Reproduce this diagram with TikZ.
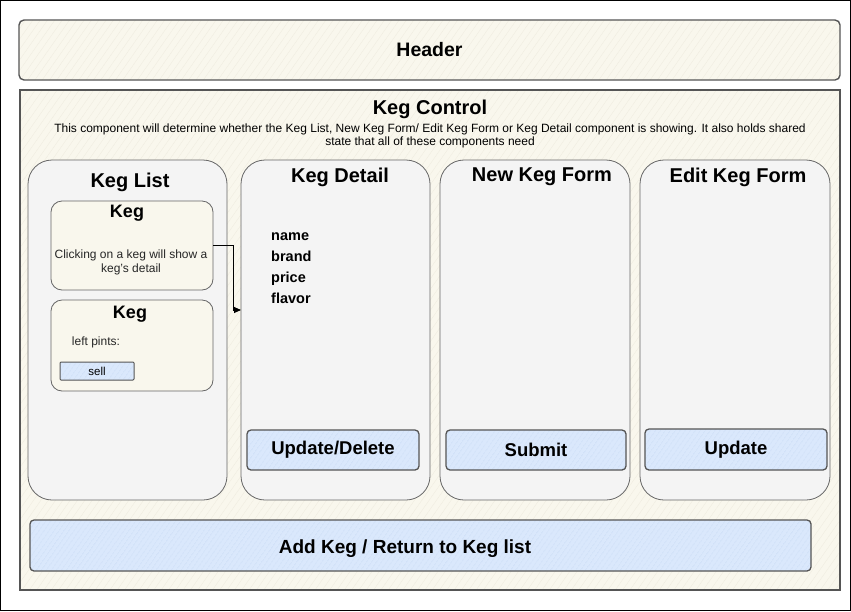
\documentclass[tikz,border=0pt]{standalone}
\usepackage{fontspec}
\setmainfont{Liberation Sans}
\usetikzlibrary{arrows.meta,patterns.meta,calc}
\definecolor{paper}{HTML}{F9F7ED}
\definecolor{paperhatch}{HTML}{EFECE0}
\definecolor{panel}{HTML}{F4F4F4}
\definecolor{btn}{HTML}{DAE8FC}
\definecolor{btnhatch}{HTML}{C2D6F2}
\definecolor{edge}{HTML}{555555}
\tikzset{
  hatchpaper/.style={preaction={fill=paper},preaction={pattern={Lines[distance=6pt,angle=55,line width=0.35pt]},pattern color=paperhatch}},
  hatchbtn/.style={preaction={fill=btn},preaction={pattern={Lines[distance=4pt,angle=55,line width=0.5pt]},pattern color=btnhatch}},
  sketchbox/.style={draw=edge,line width=1.4pt,hatchpaper,rounded corners=5pt,inner sep=0pt,outer sep=0pt,anchor=north west},
  ctrlbox/.style={draw=edge,line width=1.1pt,hatchpaper,inner sep=0pt,outer sep=0pt,anchor=north west},
  panelbox/.style={draw=edge!90,line width=0.8pt,fill=panel,rounded corners=24pt,inner sep=0pt,outer sep=0pt,anchor=north west},
  kegbox/.style={draw=edge!90,line width=0.8pt,fill=paper,rounded corners=11pt,inner sep=0pt,outer sep=0pt,anchor=north west},
  btnbox/.style={draw=edge,line width=1.3pt,hatchbtn,rounded corners=4pt,inner sep=0pt,outer sep=0pt,anchor=north west,font=\fontsize{18.5}{20}\selectfont\bfseries},
  title/.style={font=\fontsize{20}{22}\selectfont\bfseries,inner sep=0pt},
  kegtitle/.style={font=\fontsize{18}{20}\selectfont\bfseries,inner sep=0pt},
  small/.style={font=\fontsize{12}{14}\selectfont,text=black!85,inner sep=0pt,align=center},
  field/.style={font=\fontsize{14.5}{16}\selectfont\bfseries,inner sep=0pt,anchor=base west},
  link/.style={draw=black,line width=0.9pt,-{Triangle[length=7pt,width=6pt]}}
}
\begin{document}
\begin{tikzpicture}[x=1pt,y=-1pt]
\draw[black,line width=1pt,fill=white] (0.5,0.5) rectangle (850.5,610.5);
\useasboundingbox (0,0) rectangle (851,611);
% header
\node[sketchbox,minimum width=821pt,minimum height=60pt,font=\fontsize{19.5}{21}\selectfont\bfseries] (header) at (19,20) {Header};
% keg control
\node[ctrlbox,minimum width=820pt,minimum height=500pt] (control) at (20,90) {};
\node[kegtitle,font=\fontsize{20}{22}\selectfont\bfseries] (ctitle) at (430,109) {Keg Control};
\node[font=\fontsize{12}{13.5}\selectfont,align=center,inner sep=0pt] (cdesc) at (430,136) {This component will determine whether the Keg List, New Keg Form/ Edit Keg Form or Keg Detail component is showing. It also holds shared\\state that all of these components need};
% panels
\node[panelbox,minimum width=199pt,minimum height=340pt] (list) at (28,160) {};
\node[title] (listtitle) at (130,182) {Keg List};
\node[panelbox,minimum width=189pt,minimum height=340pt] (detail) at (241,160) {};
\node[title] (detailtitle) at (340,177) {Keg Detail};
\node[panelbox,minimum width=190pt,minimum height=340pt] (newform) at (440,160) {};
\node[title] (newtitle) at (542,177) {New Keg Form};
\node[panelbox,minimum width=190pt,minimum height=340pt] (editform) at (640,160) {};
\node[title] (edittitle) at (738,177) {Edit Keg Form};
% kegs
\node[kegbox,minimum width=162pt,minimum height=89pt] (keg1) at (51,201) {};
\node[kegtitle] (keg1title) at (127,213) {Keg};
\node[small] (keg1text) at (131,262) {Clicking on a keg will show a\\keg's detail};
\node[kegbox,minimum width=162pt,minimum height=91pt] (keg2) at (51,300) {};
\node[kegtitle] (keg2title) at (130,314) {Keg};
\node[small] (keg2text) at (96,342) {left pints:};
\node[btnbox,line width=1pt,rounded corners=1pt,minimum width=74pt,minimum height=18pt,font=\fontsize{11.5}{13}\selectfont] (sell) at (60,362) {sell};
% detail fields
\node[field] (fname) at (271,240) {name};
\node[field] (fbrand) at (271,261) {brand};
\node[field] (fprice) at (271,282) {price};
\node[field] (fflavor) at (271,303) {flavor};
% buttons
\node[btnbox,minimum width=172pt,minimum height=40pt] (upd) at (247,430) {Update/Delete};
\node[btnbox,minimum width=180pt,minimum height=40pt] (submit) at (446,430) {Submit};
\node[btnbox,minimum width=182pt,minimum height=41pt] (update) at (645,429) {Update};
\node[btnbox,minimum width=781pt,minimum height=51pt] (addkeg) at (30,520) {};
\node[font=\fontsize{19}{20}\selectfont\bfseries,inner sep=0pt] (addtext) at (405,549) {Add Keg / Return to Keg list};
% connector
\coordinate (arrEnd) at (241,310);
\draw[link] (keg1.east) -| ($(arrEnd)+(-8,0)$) -- (arrEnd);
\end{tikzpicture}
\end{document}
